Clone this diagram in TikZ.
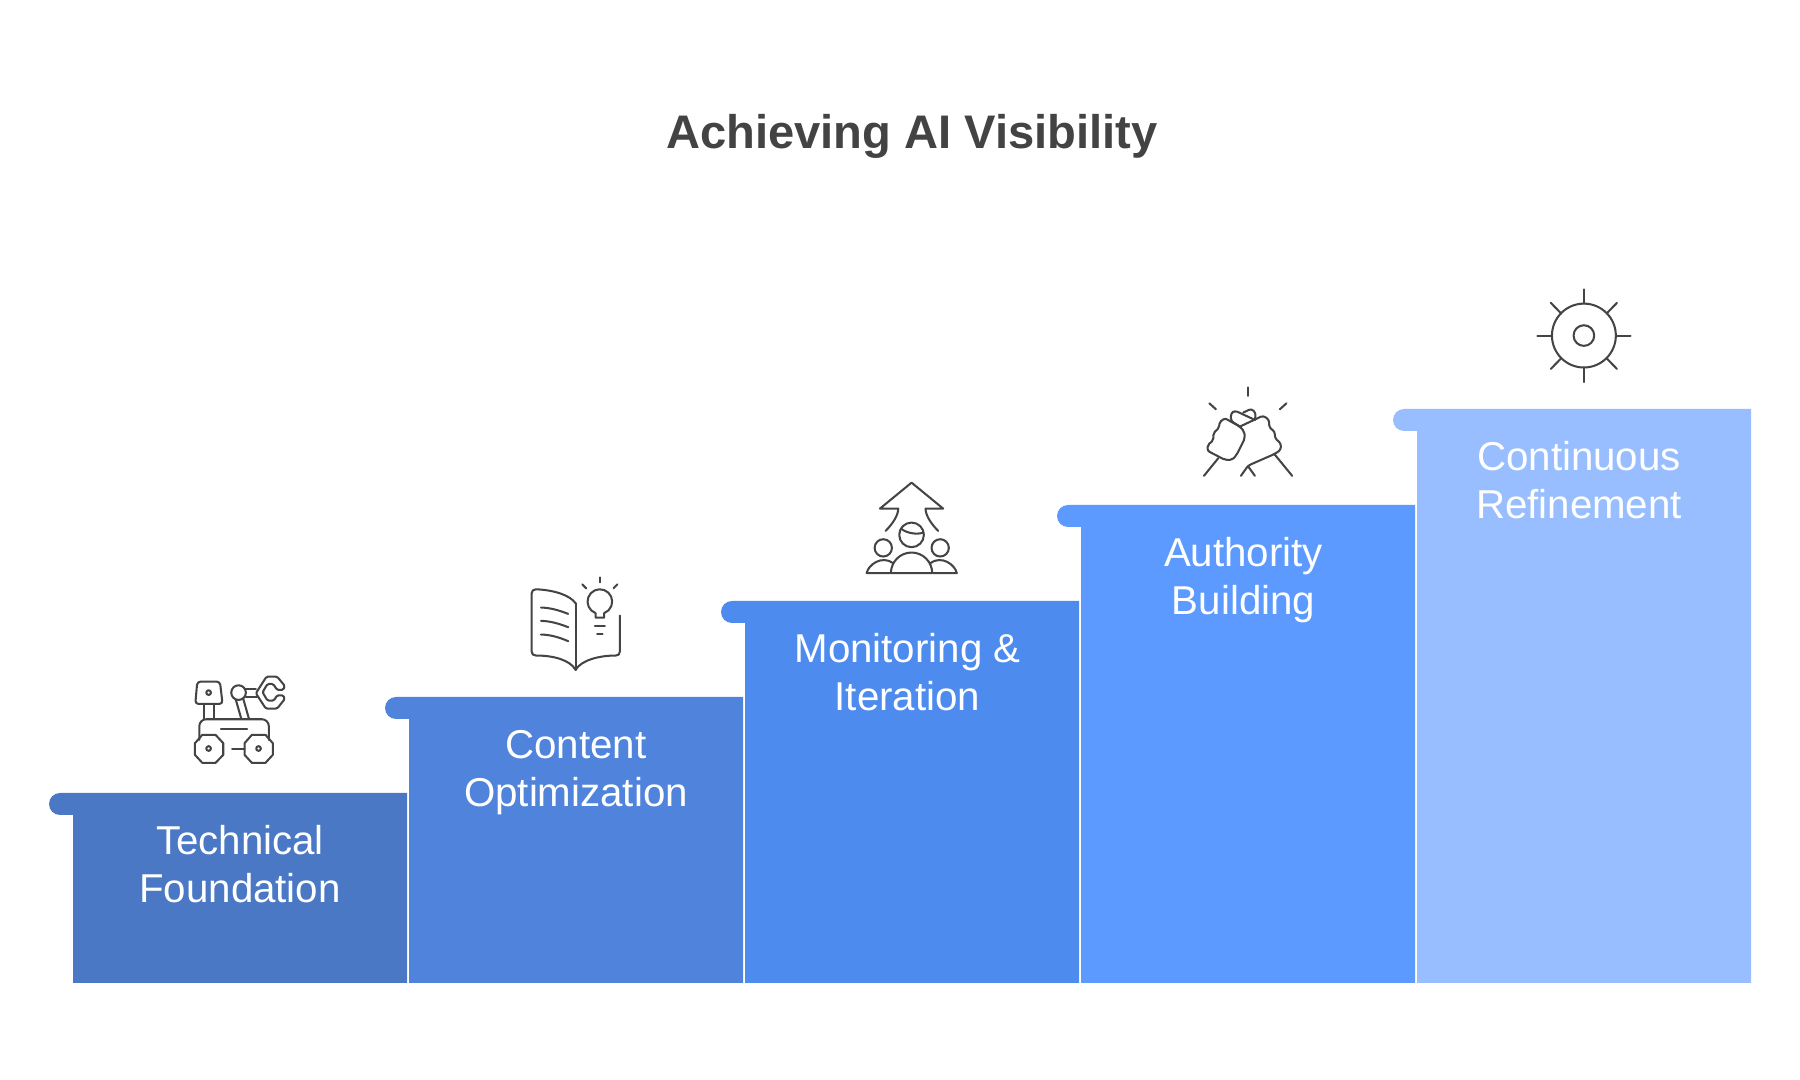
\documentclass[tikz,border=0pt]{standalone}
\usepackage{fontspec}
\setmainfont{Liberation Sans}
\usetikzlibrary{positioning}
\definecolor{stepa}{HTML}{4A78C4}
\definecolor{stepb}{HTML}{5084DC}
\definecolor{stepc}{HTML}{4D8BEF}
\definecolor{stepd}{HTML}{5C9AFF}
\definecolor{stepe}{HTML}{98BEFF}
\definecolor{icongray}{HTML}{444444}
\definecolor{titlegray}{HTML}{434343}
\tikzset{
  steplabel/.style={text=white,align=center,inner sep=0pt,anchor=north,
    font=\fontsize{11.45}{13.7}\selectfont},
  iconline/.style={draw=icongray,line width=.58pt,line join=round,line cap=round},
  iconscale/.style={x=.003333cm,y=-.003333cm},
}
\begin{document}
\begin{tikzpicture}[x=.01cm,y=-.01cm]
\useasboundingbox (0,0) rectangle (1800,1080);

\node[text=titlegray,inner sep=0pt,font=\fontsize{13.4}{16}\selectfont\bfseries] (title) at (912,136) {Achieving AI Visibility};

% the steps
\foreach \xl/\ytop/\col in {73/793/stepa,409/697/stepb,745/601/stepc,1081/505/stepd,1417/409/stepe}{
\fill[\col] (\xl,\ytop+22) -- ++(-13,0) arc [radius=11, start angle=90, end angle=270] -- (\xl+334,\ytop) -- (\xl+334,983) -- (\xl,983) -- cycle;
}

\node[steplabel] (technical) at (240,824.5) {Technical\\Foundation};
\node[steplabel] (content) at (576,729.5) {Content\\Optimization};
\node[steplabel] (monitoring) at (907.5,632.5) {Monitoring \&\\Iteration};
\node[steplabel] (authority) at (1243.5,536.5) {Authority\\Building};
\node[steplabel] (continuous) at (1579,440.5) {Continuous\\Refinement};

% rover
\begin{scope}[shift={(170,660)},iconscale,iconline]
\draw[rounded corners=.9pt] (82,65) -- (150,65) -- (158,132) -- (76,132) -- cycle;
\draw (116,98) circle (7);
\draw (103,133) -- (103,178);
\draw (131,133) -- (131,178);
\draw[rounded corners=2pt] (88,240) -- (88,178) -- (297,178) -- (297,240);
\draw (153,207) -- (232,207);
\draw (97,225) -- (137,225) -- (160,250) -- (160,285) -- (137,309) -- (97,309) -- (75,285) -- (75,250) -- cycle;
\draw (116,266) circle (7);
\draw (246,225) -- (287,225) -- (309,250) -- (309,285) -- (287,309) -- (246,309) -- (224,285) -- (224,250) -- cycle;
\draw (266,266) circle (7);
\draw (187,266) -- (224,266);
\draw (206,98) circle (22);
\draw (198,120) -- (214,176);
\draw (220,116) -- (237,176);
\draw (225,88) -- (258,88);
\draw (228,110) -- (262,110);
\draw[rounded corners=.4pt] (290,50) -- (322,50) -- (345,78) -- (340,90) -- (322,90) -- (310,72) -- (293,72) -- (278,97) -- (293,122) -- (312,122) -- (322,106) -- (340,106) -- (345,117) -- (322,146) -- (288,146) -- (258,100) -- cycle;
\end{scope}

% book
\begin{scope}[shift={(510,565)},iconscale,iconline]
\draw (197,115) .. controls (180,90) and (130,75) .. (78,73) .. controls (70,73) and (65,78) .. (65,85) -- (65,260) .. controls (65,268) and (70,272) .. (78,272) .. controls (130,272) and (180,285) .. (197,315) .. controls (215,285) and (270,272) .. (318,272) .. controls (326,272) and (330,268) .. (330,260) -- (330,152);
\draw (197,115) -- (197,315);
\draw (93,128) .. controls (120,128) and (150,137) .. (175,147);
\draw (93,168) .. controls (120,168) and (150,177) .. (175,187);
\draw (93,209) .. controls (120,209) and (150,218) .. (175,229);
\draw (257,144.6) arc [radius=37, start angle=110.6, end angle=429.4] -- (283,158) -- (257,158) -- cycle;
\draw (255,182) -- (285,182);
\draw (262,207) -- (278,207);
\draw (270,37) -- (270,52);
\draw (217,58) -- (229,70);
\draw (323,58) -- (311,70);
\end{scope}

% people and arrow
\begin{scope}[shift={(840,470)},iconscale,iconline]
\draw (137,183) .. controls (160,160) and (175,135) .. (175,116) -- (120,116) -- (215,38) -- (310,116) -- (257,116) .. controls (257,135) and (272,160) .. (295,183);
\draw (215,195) circle (37);
\draw (183,176) .. controls (200,190) and (230,195) .. (251,188);
\draw (130,234) circle (26);
\draw (301,234) circle (26);
\draw (153,310) arc [radius=62, start angle=180, end angle=360] -- cycle;
\draw (150,310) -- (80,310) .. controls (85,285) and (125,255) .. (160,280);
\draw (280,310) -- (351,310) .. controls (346,285) and (306,255) .. (271,280);
\end{scope}

% handshake
\begin{scope}[shift={(1175,375)},iconscale,iconline]
\draw (219,37) -- (219,63);
\draw (103,85) -- (123,103);
\draw (335,85) -- (315,103);
\draw[rounded corners=.6pt] (195,155) -- (150,130) -- (133,142) -- (133,158) -- (115,175) -- (115,197) -- (98,210) -- (98,228) -- (150,255) -- (172,255) -- (185,240) -- (210,190) -- (208,170) -- cycle;
\draw[rounded corners=.8pt] (195,155) -- (168,138) -- (168,115) -- (180,107) -- (240,135);
\draw[rounded corners=.8pt] (205,113) -- (230,101) -- (243,115) -- (240,135);
\draw[rounded corners=.8pt] (195,155) -- (265,122) -- (283,135) -- (283,158) -- (300,170) -- (300,190) -- (318,205) -- (318,225) -- (300,237) -- (220,272) -- (198,303);
\draw (220,275) -- (240,303);
\draw (130,250) -- (87,303);
\draw (298,237) -- (352,303);
\end{scope}

% gear
\begin{scope}[shift={(1510,275)},iconscale,iconline]
\draw (222,182) circle (96);
\draw (222,182) circle (31);
\draw (222,43) -- (222,86);
\draw (222,278) -- (222,322);
\draw (82,182) -- (126,182);
\draw (318,182) -- (362,182);
\draw (123,84) -- (154,116);
\draw (321,84) -- (290,116);
\draw (123,282) -- (154,250);
\draw (321,282) -- (290,250);
\end{scope}

\end{tikzpicture}
\end{document}
